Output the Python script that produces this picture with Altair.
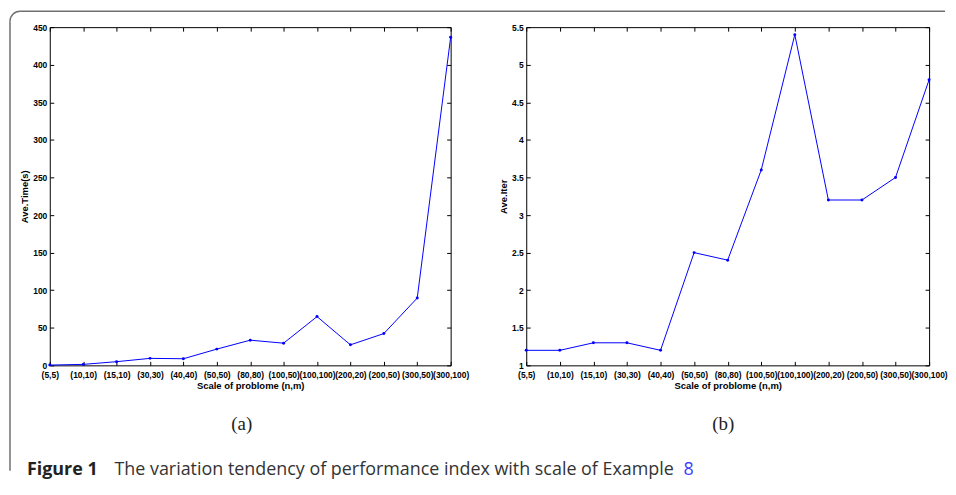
import math
import altair as alt
import pandas as pd

categories = ["(5,5)", "(10,10)", "(15,10)", "(30,30)", "(40,40)", "(50,50)", "(80,80)",
              "(100,50)", "(100,100)", "(200,20)", "(200,50)", "(300,50)", "(300,100)"]
ave_time = [0.4, 1.3, 4.9, 9.3, 8.8, 21.6, 33.5, 29.5, 64.9, 27.3, 42.3, 89.6, 436.5]
ave_iter = [1.2, 1.2, 1.3, 1.3, 1.2, 2.5, 2.4, 3.6, 5.4, 3.2, 3.2, 3.5, 4.8]
time_ticks = [0, 50, 100, 150, 200, 250, 300, 350, 400, 450]
iter_ticks = [1, 1.5, 2, 2.5, 3, 3.5, 4, 4.5, 5, 5.5]

W, H = 403, 340
LF = "Liberation Sans, Arial, Helvetica, sans-serif"
FRAME = "#707070"


def panel(values, domain, ticks, ytitle):
    df = pd.DataFrame({"scale": categories, "val": values})
    xs = alt.Scale(type="point", padding=0)
    ys = alt.Scale(domain=domain, nice=False, zero=False)
    base = alt.Chart(df)

    line = base.mark_line(color="#0000ff", strokeWidth=1).encode(
        x=alt.X("scale:N", sort=categories, scale=xs,
                axis=alt.Axis(orient="bottom", ticks=False, tickSize=0, domain=False, grid=False,
                              labelAngle=0, labelOverlap=False, labelLimit=200,
                              labelFont=LF, labelFontSize=8.5, labelFontWeight="bold",
                              labelColor="black", labelPadding=5,
                              title="Scale of problome (n,m)", titleFont=LF, titleFontSize=9.5,
                              titleFontWeight="bold", titleColor="black", titlePadding=2)),
        y=alt.Y("val:Q", scale=ys,
                axis=alt.Axis(orient="left", values=ticks, format="~r", ticks=False, tickSize=0,
                              domain=False, grid=False, labelFont=LF, labelFontSize=8.5,
                              labelFontWeight="bold", labelColor="black", labelPadding=3,
                              title=ytitle, titleFont=LF, titleFontSize=9.5,
                              titleFontWeight="bold", titleColor="black", titlePadding=3)),
    )
    pts = base.mark_point(filled=True, size=9, color="#0000ff", opacity=1).encode(
        x=alt.X("scale:N", sort=categories, axis=None),
        y=alt.Y("val:Q", axis=None),
    )
    tick_kw = dict(labels=False, domain=False, grid=False, tickSize=4, tickColor="black",
                   tickWidth=1, title=None, offset=-4)
    inner1 = base.mark_point(opacity=0).encode(
        x=alt.X("scale:N", sort=categories, axis=alt.Axis(orient="bottom", **tick_kw)),
        y=alt.Y("val:Q", axis=alt.Axis(orient="left", values=ticks, **tick_kw)),
    )
    inner2 = base.mark_point(opacity=0).encode(
        x=alt.X("scale:N", sort=categories, axis=alt.Axis(orient="top", **tick_kw)),
        y=alt.Y("val:Q", axis=alt.Axis(orient="right", values=ticks, **tick_kw)),
    )
    return [line, pts, inner1, inner2]


left_layers = panel(ave_time, [0, 450], time_ticks, "Ave.Time(s)")
right_layers = panel(ave_iter, [1, 5.5], iter_ticks, "Ave.Iter")

one = pd.DataFrame({"k": [0]})
deco = alt.Chart(one)
frame_top = deco.mark_rule(color=FRAME, strokeWidth=1.5).encode(
    x=alt.value(-30), x2=alt.value(900), y=alt.value(-16))
frame_left = deco.mark_rule(color=FRAME, strokeWidth=1.5).encode(
    x=alt.value(-40), y=alt.value(-6), y2=alt.value(446))
frame_corner = deco.mark_arc(color=FRAME).encode(
    x=alt.value(-30), y=alt.value(-6), radius=alt.value(10.75), radius2=alt.value(9.25),
    theta=alt.value(1.5 * math.pi), theta2=alt.value(2 * math.pi))

sub_a = deco.mark_text(font="Liberation Serif", fontSize=19, color="#222222", align="center",
                       baseline="middle").encode(x=alt.value(193), y=alt.value(399),
                                                 text=alt.value("(a)"))
sub_b = deco.mark_text(font="Liberation Serif", fontSize=19, color="#222222", align="center",
                       baseline="middle").encode(x=alt.value(677), y=alt.value(399),
                                                 text=alt.value("(b)"))
cap_bold = deco.mark_text(font="Open Sans", fontSize=18, fontWeight="bold", color="#222222",
                          align="left", baseline="alphabetic").encode(
    x=alt.value(-23), y=alt.value(450), text=alt.value("Figure 1"))
cap_text = deco.mark_text(font="Open Sans", fontSize=18, color="#333333", align="left",
                          baseline="alphabetic").encode(
    x=alt.value(65), y=alt.value(450),
    text=alt.value("The variation tendency of performance index with scale of Example"))
cap_ref = deco.mark_text(font="Open Sans", fontSize=18, color="#3b3bff", align="left",
                         baseline="alphabetic").encode(
    x=alt.value(637), y=alt.value(450), text=alt.value("8"))

left = alt.layer(*left_layers, frame_top, frame_left, frame_corner, sub_a, sub_b,
                 cap_bold, cap_text, cap_ref).resolve_axis(x="independent", y="independent").properties(
    width=W, height=H)
right = alt.layer(*right_layers).resolve_axis(x="independent", y="independent").properties(
    width=405, height=H)

chart = alt.hconcat(left, right, spacing=76, bounds="flush").configure_view(
    stroke="black", strokeWidth=1).properties(padding=0, background="white")

chart.save("out.html", embed_options={"renderer": "svg", "actions": False})
